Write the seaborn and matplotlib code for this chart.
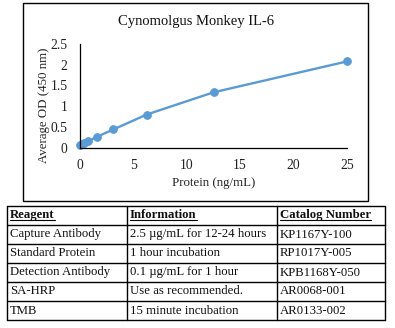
import matplotlib
matplotlib.use("Agg")
import matplotlib.pyplot as plt
import seaborn as sns
import pandas as pd
from matplotlib.patches import Rectangle

protein = [0, 0.195, 0.39, 0.78, 1.56, 3.125, 6.25, 12.5, 25]
od = [0.06, 0.09, 0.12, 0.16, 0.26, 0.44, 0.80, 1.335, 2.08]

headers = ["Reagent", "Information", "Catalog Number"]
reagents = ["Capture Antibody", "Standard Protein", "Detection Antibody", "SA-HRP", "TMB"]
info = ["2.5 µg/mL for 12-24 hours", "1 hour incubation", "0.1 µg/mL for 1 hour",
        "Use as recommended.", "15 minute incubation"]
catalog = ["KP1167Y-100", "RP1017Y-005", "KPB1168Y-050", "AR0068-001", "AR0133-002"]

sns.set_style("white")
plt.rcParams['font.family'] = ['Liberation Serif', 'DejaVu Serif']

W, H = 395, 328
fig = plt.figure(figsize=(W / 100, H / 100), dpi=100)

def fx(px):
    return px / W

def fy(py):
    return 1 - py / H

# chart border box
fig.patches.append(Rectangle((fx(23), fy(201)), fx(368) - fx(23), fy(3) - fy(201),
                             transform=fig.transFigure, fill=False, edgecolor="black", lw=1))

ax = fig.add_axes([fx(80), fy(147.7), fx(347) - fx(80), fy(44) - fy(147.7)])
df = pd.DataFrame({"protein": protein, "od": od})
sns.lineplot(data=df, x="protein", y="od", ax=ax, color="#5B9BD5", lw=1.7,
             marker="o", markersize=5.5, markeredgecolor="#5B9BD5")
ax.set_xlim(0, 25)
ax.set_ylim(0, 2.5)
ax.set_xticks([0, 5, 10, 15, 20, 25])
ax.set_xticklabels(["0", "5", "10", "15", "20", "25"])
ax.set_yticks([0, 0.5, 1, 1.5, 2, 2.5])
ax.set_yticklabels(["0", "0.5", "1", "1.5", "2", "2.5"])
ax.tick_params(axis="x", length=0, labelsize=9.8, pad=8, colors="#222222")
ax.tick_params(axis="y", length=0, labelsize=9.8, pad=9, colors="#222222")
for s in ["top", "right"]:
    ax.spines[s].set_visible(False)
for s in ["left", "bottom"]:
    ax.spines[s].set_color("black")
    ax.spines[s].set_linewidth(0.9)
ax.set_xlabel("Protein (ng/mL)", fontsize=9.3, labelpad=4)
ax.set_ylabel("Average OD (450 nm)", fontsize=9.3, va="center")
ax.yaxis.set_label_coords(-0.135, 0.41)
fig.text(fx(195.5), fy(21), "Cynomolgus Monkey IL-6", fontsize=10.5,
         ha="center", va="center", color="#111111")
for line in ax.lines:
    line.set_clip_on(False)

# table
col_x = [7, 127, 277, 385]
row_y = [206, 225, 244, 263, 282, 301, 320]
tab = fig.add_axes([0, 0, 1, 1])
tab.set_xlim(0, W)
tab.set_ylim(H, 0)
tab.axis("off")
for x in col_x:
    tab.plot([x, x], [row_y[0], row_y[-1]], color="black", lw=1.0)
for y in row_y:
    tab.plot([col_x[0], col_x[-1]], [y, y], color="black", lw=1.0)

rows = [headers] + [[r, i, c] for r, i, c in zip(reagents, info, catalog)]
header_base = 218
for ri, row in enumerate(rows):
    base = header_base if ri == 0 else row_y[ri + 1] - 6.5
    for ci, txt in enumerate(row):
        tab.text(col_x[ci] + 3, base, txt, fontsize=9.2,
                 va="baseline", ha="left", color="#111111",
                 fontweight="bold" if ri == 0 else "normal")

# underline headers
fig.canvas.draw()
renderer = fig.canvas.get_renderer()
inv = tab.transData.inverted()
for t in tab.texts[:3]:
    bb = t.get_window_extent(renderer)
    (x0, _), (x1, _) = inv.transform([(bb.x0, bb.y0), (bb.x1, bb.y1)])
    tab.plot([x0, x1], [header_base + 1.5, header_base + 1.5], color="black", lw=0.8)

fig.savefig("out.png", dpi=100)
